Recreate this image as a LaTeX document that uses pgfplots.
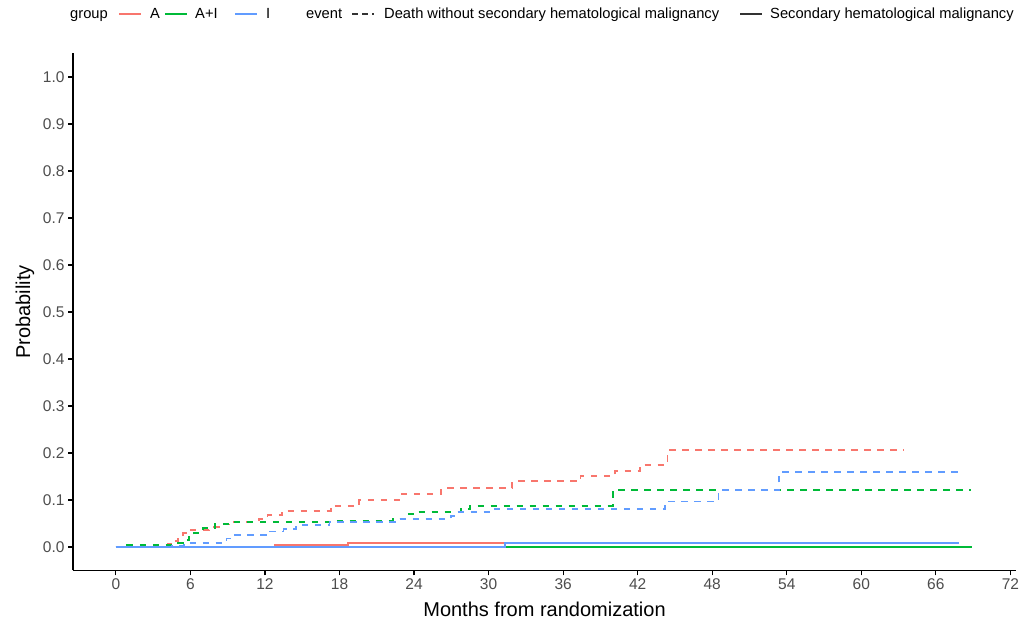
\documentclass[border=0pt]{standalone}
\usepackage{fontspec}
\setmainfont{Liberation Sans}
\usepackage{pgfplots}
\pgfplotsset{compat=1.18}
\definecolor{cA}{HTML}{F8766D}
\definecolor{cAI}{HTML}{00BA38}
\definecolor{cI}{HTML}{619CFF}
\definecolor{tickgray}{HTML}{4D4D4D}
\newcommand{\legfont}{\fontsize{14.7}{17}\selectfont}
\newcommand{\tickfont}{\fontsize{15.5}{18}\selectfont}
\newcommand{\titlefont}{\fontsize{20}{24}\selectfont}
\begin{document}
\begin{tikzpicture}[x=1pt,y=1pt]
\path[use as bounding box] (0,0) rectangle (1025,623);
\begin{axis}[
  at={(73pt,52.5pt)}, anchor=south west,
  scale only axis, width=943pt, height=517pt,
  xmin=-3.45, xmax=72.45, ymin=-0.05, ymax=1.05,
  axis x line*=bottom, axis y line*=left,
  axis line style={-, line width=1.1pt, black},
  xtick={0,6,12,18,24,30,36,42,48,54,60,66,72},
  ytick={0,0.1,0.2,0.3,0.4,0.5,0.6,0.7,0.8,0.9,1.0},
  tick align=outside, major tick length=5pt,
  tick style={line width=1.1pt, black},
  /pgf/number format/assume math mode=true,
  tick label style={font=\tickfont, text=tickgray},
  yticklabel style={/pgf/number format/.cd, fixed, fixed zerofill, precision=1},
  xlabel={Months from randomization}, ylabel={Probability},
  every axis x label/.style={at={(axis description cs:0.5,0)}, anchor=base, yshift=-46.5pt, font=\titlefont},
  every axis y label/.style={at={([xshift=-43pt]axis description cs:0,0.5)}, anchor=base, rotate=90, font=\titlefont},
  every axis plot/.append style={line width=1.8pt, const plot},
  clip=false,
]
% Death without secondary hematological malignancy (dashed)
\addplot[cA, dash pattern=on 6.5pt off 6.5pt] coordinates {
(0,0) (4.2,0.006) (4.6,0.013) (5.0,0.021) (5.4,0.029) (5.8,0.036) (7.5,0.042) (8.6,0.048) (9.2,0.054) (11.5,0.060) (12.2,0.068) (13.4,0.077) (17.3,0.087) (19.6,0.100) (23.0,0.113) (26.2,0.125) (31.9,0.140) (37.4,0.151) (40.2,0.162) (42.2,0.175) (44.4,0.206) (63.4,0.206)};
\addplot[cAI, dash pattern=on 6.5pt off 6.5pt] coordinates {
(0,0) (0.9,0.004) (5.0,0.008) (5.5,0.015) (5.9,0.022) (6.3,0.030) (7.0,0.040) (8.0,0.049) (9.5,0.053) (17.5,0.056) (22.3,0.060) (23.4,0.070) (24.3,0.075) (27.8,0.081) (28.5,0.088) (40.0,0.121) (68.8,0.121)};
\addplot[cI, dash pattern=on 6.5pt off 6.5pt] coordinates {
(0,0) (4.5,0.003) (5.5,0.009) (8.9,0.018) (9.4,0.025) (12.3,0.033) (13.5,0.038) (14.5,0.047) (17.2,0.054) (22.8,0.060) (27.0,0.066) (27.6,0.075) (30.2,0.081) (44.2,0.097) (48.5,0.121) (53.4,0.159) (68.1,0.159)};
% Secondary hematological malignancy (solid)
\addplot[cA] coordinates {(0,0) (12.8,0.0045) (18.7,0.009) (63.5,0.009)};
\addplot[cAI] coordinates {(0,0) (68.9,0)};
\addplot[cI] coordinates {(0,0) (31.3,0.0085) (67.9,0.0085)};
\end{axis}
% legend
\node[anchor=base west, font=\legfont, inner sep=0] at (70,604) {group};
\draw[cA, line width=1.8pt] (119,609) -- (141,609);
\node[anchor=base west, font=\legfont, inner sep=0] at (150,604) {A};
\draw[cAI, line width=1.8pt] (165,609) -- (187,609);
\node[anchor=base west, font=\legfont, inner sep=0] at (195,604) {A+I};
\draw[cI, line width=1.8pt] (235,609) -- (257,609);
\node[anchor=base west, font=\legfont, inner sep=0] at (266,604) {I};
\node[anchor=base west, font=\legfont, inner sep=0] at (306,604) {event};
\draw[black!80, line width=1.8pt, dash pattern=on 6pt off 4pt] (352,609) -- (374,609);
\node[anchor=base west, font=\legfont, inner sep=0] at (384,604) {Death without secondary hematological malignancy};
\draw[black!80, line width=1.8pt] (740,609) -- (762,609);
\node[anchor=base west, font=\legfont, inner sep=0] at (770,604) {Secondary hematological malignancy};
\end{tikzpicture}
\end{document}
